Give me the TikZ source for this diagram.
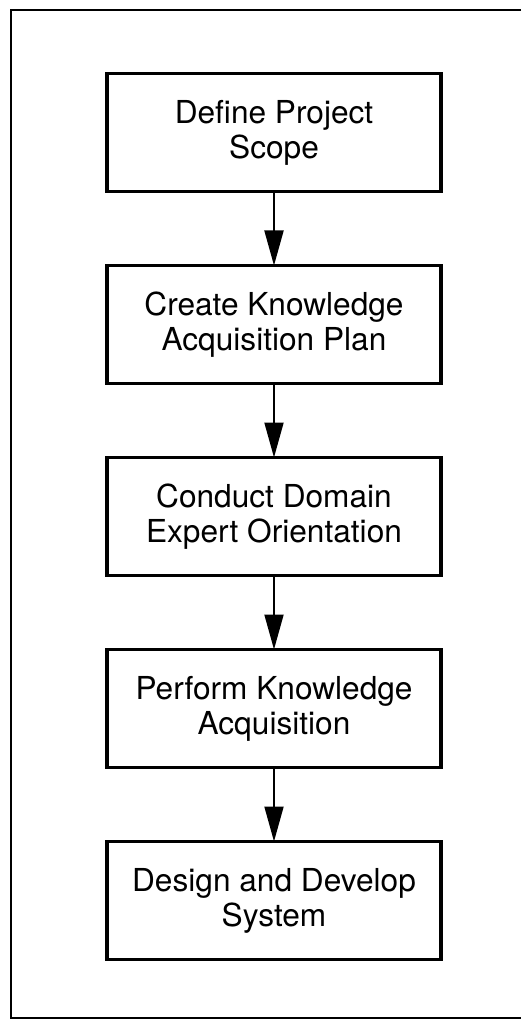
\documentclass[tikz,border=0pt]{standalone}
\usepackage{fontspec}
\setmainfont{TeX Gyre Heros}
\usepackage{tikz}
\usetikzlibrary{arrows.meta, positioning}

\begin{document}
\begin{tikzpicture}[
    % Node styles
    stepbox/.style={
        rectangle,
        minimum width=6.68cm,
        minimum height=2.36cm,
        text centered,
        align=center,
        font=\fontsize{18}{20}\selectfont,
        draw=black,
        line width=2.2pt,
        outer sep=0pt
    },
    % Arrow style
    arrow/.style={
        -{Triangle[length=0.7cm, width=0.38cm]},
        line width=1.1pt,
        draw=black
    },
    % Frame style
    framebox/.style={
        draw=black,
        line width=1.4pt
    }
]

\useasboundingbox (0,0) rectangle (10.42,-20.42);

% ============================================
% OUTER FRAME (right side cut off)
% ============================================
\draw[framebox] (10.42,-0.2) -- (0.22,-0.2) -- (0.22,-20.36) -- (10.42,-20.36);

% ============================================
% STEPS
% ============================================
% Define Project Scope
\node[stepbox] (scope) at (5.48,-2.65) {Define Project\\Scope};

% Create Knowledge Acquisition Plan
\node[stepbox, below=1.48cm of scope] (plan) {Create Knowledge\\Acquisition Plan};

% Conduct Domain Expert Orientation
\node[stepbox, below=1.48cm of plan] (orient) {Conduct Domain\\Expert Orientation};

% Perform Knowledge Acquisition
\node[stepbox, below=1.48cm of orient] (acquire) {Perform Knowledge\\Acquisition};

% Design and Develop System
\node[stepbox, below=1.48cm of acquire] (develop) {Design and Develop\\System};

% ============================================
% ARROWS
% ============================================
\draw[arrow] (scope.south) -- (plan.north);
\draw[arrow] (plan.south) -- (orient.north);
\draw[arrow] (orient.south) -- (acquire.north);
\draw[arrow] (acquire.south) -- (develop.north);

\end{tikzpicture}
\end{document}
